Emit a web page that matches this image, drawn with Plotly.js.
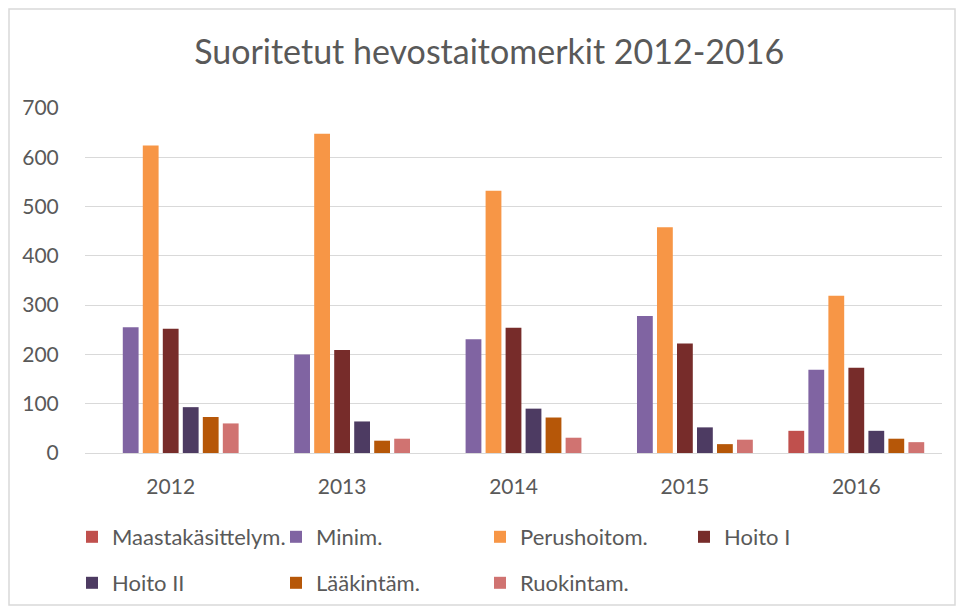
<!DOCTYPE html>
<html><head><meta charset="utf-8">
<script src="https://cdn.plot.ly/plotly-3.0.1.min.js"></script>
<style>html,body{margin:0;padding:0;background:#fff}#chart{width:963px;height:610px}</style>
</head><body><div id="chart"></div>
<script>
const years = ['2012','2013','2014','2015','2016'];
const seriesNames = ['Maastakäsittelym.','Minim.','Perushoitom.','Hoito I','Hoito II','Lääkintäm.','Ruokintam.'];
const maastakasittely = [null, null, null, null, 45];
const minim = [255, 200, 231, 278, 169];
const perushoito = [624, 648, 532, 458, 319];
const hoito1 = [252, 209, 254, 222, 173];
const hoito2 = [93, 64, 90, 52, 45];
const laakinta = [73, 25, 72, 18, 29];
const ruokinta = [60, 29, 31, 27, 22];
const colors = ['#C0504D','#8064A2','#F79646','#772C2A','#4D3B62','#B65708','#D07371'];
const values = [maastakasittely, minim, perushoito, hoito1, hoito2, laakinta, ruokinta];

const fontFam = 'Lato, "Open Sans", sans-serif';
const txtCol = '#595959';
const traces = values.map((v, i) => ({
  type: 'bar', x: years, y: v, name: seriesNames[i],
  marker: {color: colors[i], line: {width: 0}},
  legend: i < 4 ? 'legend' : 'legend2',
  hoverinfo: 'x+y+name'
}));

const legendCommon = {
  orientation: 'h', xref: 'container', yref: 'container',
  xanchor: 'left', yanchor: 'middle',
  entrywidth: 159, entrywidthmode: 'pixels',
  font: {family: fontFam, size: 22, color: txtCol},
  bgcolor: 'rgba(0,0,0,0)', itemclick: false, itemdoubleclick: false,
  traceorder: 'normal'
};

// plot area in px: x 85..942, y 108..453
const PX0 = 85, PX1 = 942, PY0 = 108, PY1 = 453;
const px2paperX = p => (p - PX0) / (PX1 - PX0);
const px2paperY = p => (PY1 - p) / (PY1 - PY0);

const layout = {
  width: 963, height: 610,
  margin: {l: PX0, r: 963 - PX1, t: PY0, b: 610 - PY1},
  paper_bgcolor: '#fff', plot_bgcolor: '#fff',
  title: {text: 'Suoritetut hevostaitomerkit 2012-2016', x: 0.508, xanchor: 'center', y: 1 - 52/610, yanchor: 'middle',
          font: {family: fontFam, size: 34, color: txtCol}},
  barmode: 'group', bargap: 0.183, bargroupgap: 0.21,
  xaxis: {type: 'category', tickfont: {family: fontFam, size: 21, color: txtCol}, showgrid: false,
          showline: true, linecolor: '#d9d9d9', linewidth: 1, ticks: 'outside', ticklen: 15, tickcolor: 'rgba(0,0,0,0)'},
  yaxis: {range: [0, 700], dtick: 100, tickfont: {family: fontFam, size: 21, color: txtCol},
          gridcolor: '#d9d9d9', gridwidth: 1, zeroline: false, ticks: 'outside', ticklen: 21, tickcolor: 'rgba(0,0,0,0)', fixedrange: true},
  legend: Object.assign({}, legendCommon, {x: 72/963, y: 1 - 537/610}),
  legend2: Object.assign({}, legendCommon, {x: 72/963, y: 1 - 583/610}),
  shapes: [{type: 'rect', xref: 'paper', yref: 'paper',
            x0: px2paperX(9), x1: px2paperX(955), y0: px2paperY(605), y1: px2paperY(9),
            line: {color: '#d9d9d9', width: 1.5}, fillcolor: 'rgba(0,0,0,0)', layer: 'below'}],
  showlegend: true
};

Plotly.newPlot('chart', traces, layout, {displayModeBar: false, staticPlot: true});
</script></body></html>
